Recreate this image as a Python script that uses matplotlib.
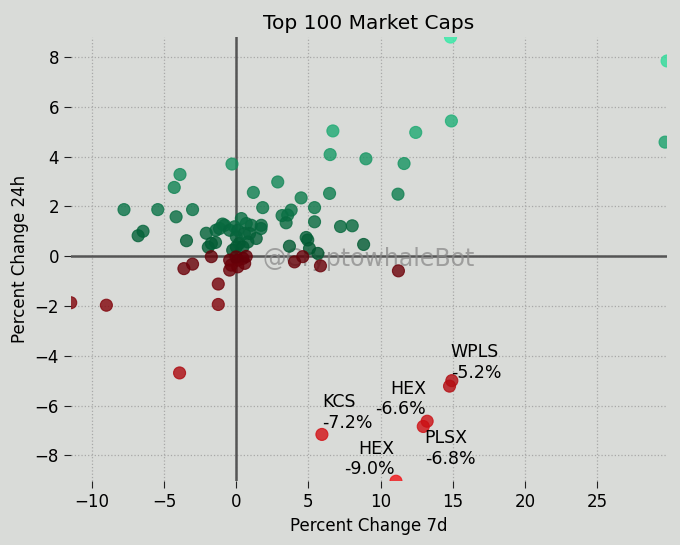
import matplotlib
matplotlib.use("Agg")
import matplotlib.pyplot as plt
import numpy as np
from matplotlib.colors import LinearSegmentedColormap, TwoSlopeNorm
from matplotlib.ticker import MultipleLocator

# percent change over 7 days / 24 hours for the top-100 coins
chg_7d = [14.84, 29.84, 14.9, 6.69, 12.43, 29.7, 6.5, 8.98, 11.62, -0.3,
          -3.9, 2.87, -4.3, 1.18, 6.46, 11.2, 4.49, 1.83, 5.42, -7.78,
          -5.44, -3.03, 3.8, 3.56, 3.17, -4.17, 5.42, 3.45, 8.03, 7.22,
          -6.46, -6.8, -3.45, -2.08, -1.94, -1.44, -1.41, -1.16, -0.95, -0.81,
          -0.46, -0.12, 0.0, 0.0, -0.25, 0.1, 0.2, 0.69, 1.04, 0.92,
          0.8, 0.46, 1.38, 1.73, 1.71, 0.35, 4.84, 4.95, 3.68, 5.07,
          5.65, 8.82, 0.56, -1.73,
          -11.47, -9.0, -1.25, -1.25, -3.93, 14.93, -3.03, -3.63, -1.73, -0.46,
          -0.35, -0.46, 0.1, 0.46, 0.58, 0.1, 0.69, -0.02, 4.03, 4.6,
          5.83, 11.23]
chg_24h = [8.80, 7.84, 5.43, 5.03, 4.97, 4.58, 4.08, 3.91, 3.72, 3.70,
           3.28, 2.98, 2.76, 2.56, 2.52, 2.49, 2.34, 1.95, 1.95, 1.87,
           1.87, 1.87, 1.85, 1.65, 1.63, 1.58, 1.38, 1.34, 1.22, 1.19,
           1.00, 0.82, 0.62, 0.92, 0.36, 0.55, 1.04, 1.11, 1.29, 1.24,
           1.04, 1.18, 0.78, 0.37, 0.24, 1.04, 0.51, 1.31, 1.24, 0.91,
           0.57, 0.37, 0.71, 1.24, 1.11, 1.51, 0.75, 0.65, 0.40, 0.31,
           0.11, 0.47, 0.91, 0.51,
           -1.87, -1.97, -1.94, -1.12, -4.69, -5.00, -0.32, -0.50, -0.02, -0.16,
           -0.36, -0.56, -0.16, -0.09, -0.29, -0.43, -0.01, -0.03, -0.23, -0.02,
           -0.39, -0.59]

# the five biggest 24h losers get a label
low_names = ['HEX', 'KCS', 'PLSX', 'HEX', 'WPLS']
low_7d = [11.06, 5.93, 12.95, 13.22, 14.77]
low_24h = [-9.04, -7.16, -6.84, -6.63, -5.22]

xs = np.array(chg_7d + low_7d)
ys = np.array(chg_24h + low_24h)

bg = '#d9dbd8'
cmap = LinearSegmentedColormap.from_list(
    'rg', [(0.0, '#f01418'), (0.5, '#640008'), (0.5, '#00542e'), (1.0, '#34eaa6')])
norm = TwoSlopeNorm(vmin=ys.min(), vcenter=0, vmax=ys.max())

fig, ax = plt.subplots(figsize=(6.8, 5.45), dpi=100)
fig.subplots_adjust(left=0.104, right=0.981, top=0.932, bottom=0.117)
fig.patch.set_facecolor(bg)
ax.set_facecolor(bg)

ax.axhline(0, color='#555555', linewidth=1.8, zorder=2)
ax.axvline(0, color='#555555', linewidth=1.8, zorder=2)

ax.text(0.5, 0.5, '@CryptowhaleBot', transform=ax.transAxes, fontsize=17,
        color='#8a8a8a', alpha=0.75, ha='center', va='center', zorder=2.5)

ax.scatter(xs, ys, c=ys, cmap=cmap, norm=norm, s=75, alpha=0.8,
           linewidths=0.8, zorder=3)

# label placement: (ha, va, dx, dy) in points
placement = {
    'KCS': ('left', 'bottom', 0, 2),
    'PLSX': ('left', 'top', 1, -2),
    'WPLS': ('left', 'bottom', 1, 3),
}
for name, x, y in zip(low_names, low_7d, low_24h):
    ha, va, dx, dy = placement.get(name, ('right', 'bottom', -1, 2))
    ax.annotate(f'{name}\n{y:.1f}%', (x, y), xytext=(dx, dy),
                textcoords='offset points', ha=ha, va=va, fontsize=12.5, zorder=4)

ax.set_xlim(xs.min(), xs.max())
ax.set_ylim(ys.min(), ys.max())
ax.xaxis.set_major_locator(MultipleLocator(5))
ax.yaxis.set_major_locator(MultipleLocator(2))
ax.grid(True, linestyle=':', color='#a8a8a8', linewidth=0.9)
ax.set_axisbelow(True)
for s in ax.spines.values():
    s.set_visible(False)
ax.tick_params(labelsize=12, length=5, color='#222222')

ax.set_title('Top 100 Market Caps', fontsize=14.5)
ax.set_xlabel('Percent Change 7d', fontsize=12)
ax.set_ylabel('Percent Change 24h', fontsize=12)

fig.savefig('out.png', dpi=100, facecolor=bg)
